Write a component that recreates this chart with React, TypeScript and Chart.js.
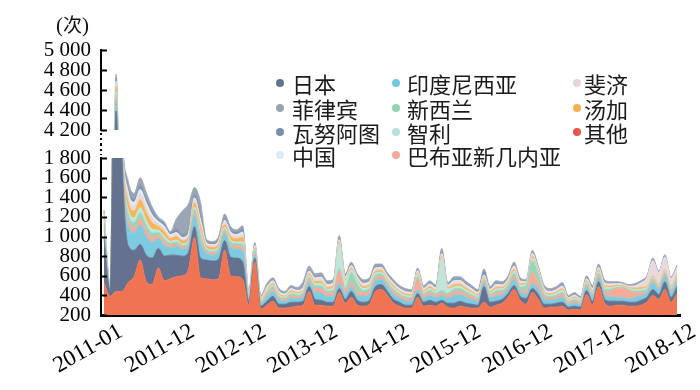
import React, { useEffect, useRef } from 'react';
import { Chart, registerables } from 'chart.js';

Chart.register(...registerables);

// x-axis tick labels (evenly spread over Jan 2011 … Dec 2018, 96 months)
const X_TICK_LABELS = ['2011-01', '2011-12', '2012-12', '2013-12', '2014-12', '2015-12', '2016-12', '2017-12', '2018-12'];
const MONTH_COUNT = 96;

// monthly counts, Jan 2011 .. Dec 2018 (stacked bottom -> top)
const OTHER = [
  530, 390, 440, 440, 530, 590, 760, 540, 510, 680, 550, 570,
  590, 600, 660, 990, 580, 570, 560, 570, 860, 600, 590, 560,
  300, 740, 260, 300, 340, 270, 270, 280, 290, 300, 440, 300,
  300, 290, 290, 430, 320, 380, 300, 290, 310, 440, 460, 400,
  320, 290, 270, 270, 380, 290, 300, 290, 320, 280, 270, 290,
  280, 270, 270, 330, 280, 300, 320, 380, 460, 350, 310, 430,
  360, 270, 280, 280, 290, 250, 260, 250, 410, 300, 490, 320,
  290, 300, 300, 290, 290, 300, 330, 400, 360, 460, 330, 420,
];
const JAPAN = [
  450, 60, 3950, 1350, 380, 270, 160, 270, 270, 200, 250, 240,
  220, 200, 180, 110, 200, 190, 190, 200, 100, 190, 190, 180,
  40, 40, 30, 40, 50, 40, 40, 50, 40, 40, 50, 60,
  50, 40, 40, 40, 40, 60, 50, 40, 40, 50, 50, 40,
  40, 40, 30, 30, 40, 40, 50, 40, 30, 40, 50, 50,
  40, 40, 30, 160, 50, 40, 40, 40, 40, 40, 60, 40,
  50, 40, 30, 40, 40, 30, 30, 30, 40, 40, 50, 40,
  50, 40, 40, 40, 40, 50, 50, 60, 50, 80, 50, 70,
];
const INDONESIA = [
  100, 15, 90, 90, 200, 180, 200, 190, 160, 100, 110, 75,
  85, 70, 70, 110, 150, 65, 60, 70, 70, 95, 90, 110,
  23, 35, 25, 45, 50, 40, 30, 42, 35, 40, 45, 70,
  75, 55, 55, 50, 50, 50, 50, 60, 58, 60, 55, 48,
  50, 42, 40, 38, 40, 40, 52, 45, 50, 50, 75, 68,
  60, 48, 38, 35, 40, 55, 45, 44, 62, 47, 40, 50,
  50, 47, 38, 42, 50, 26, 32, 23, 35, 38, 44, 50,
  45, 40, 38, 36, 45, 48, 45, 70, 50, 60, 50, 55,
];
const PNG = [
  30, 5, 40, 30, 60, 50, 60, 60, 50, 30, 35, 25,
  25, 20, 20, 35, 45, 20, 20, 20, 25, 30, 30, 35,
  17, 25, 15, 25, 26, 22, 18, 25, 22, 25, 30, 40,
  45, 35, 40, 130, 40, 40, 35, 35, 34, 33, 30, 28,
  30, 25, 26, 24, 110, 35, 30, 27, 30, 30, 40, 37,
  33, 28, 24, 25, 23, 30, 27, 27, 36, 28, 30, 120,
  60, 30, 24, 25, 30, 18, 21, 17, 22, 24, 27, 30,
  60, 90, 95, 85, 50, 30, 25, 25, 22, 25, 25, 28,
];
const NEW_ZEALAND = [
  30, 8, 30, 25, 60, 55, 60, 55, 45, 30, 30, 20,
  25, 20, 20, 30, 40, 20, 18, 20, 20, 25, 25, 35,
  11, 18, 12, 20, 22, 17, 14, 18, 15, 20, 20, 25,
  28, 22, 22, 25, 25, 100, 80, 25, 23, 24, 22, 19,
  20, 17, 17, 16, 20, 15, 20, 18, 20, 20, 27, 25,
  22, 19, 16, 15, 16, 21, 18, 18, 24, 19, 60, 110,
  90, 25, 16, 17, 20, 12, 14, 11, 15, 16, 18, 20,
  18, 12, 10, 10, 18, 18, 15, 15, 12, 15, 15, 18,
];
const CHILE = [
  25, 4, 30, 25, 50, 45, 55, 50, 40, 25, 30, 20,
  20, 15, 15, 25, 35, 15, 15, 15, 20, 25, 20, 25,
  11, 15, 10, 17, 18, 15, 12, 16, 15, 15, 20, 25,
  25, 20, 30, 250, 70, 30, 30, 22, 23, 22, 20, 19,
  20, 17, 17, 16, 20, 15, 19, 18, 330, 45, 25, 24,
  22, 18, 16, 15, 15, 20, 17, 18, 24, 19, 15, 30,
  20, 17, 16, 17, 20, 12, 14, 11, 15, 16, 18, 20,
  15, 10, 8, 8, 15, 18, 15, 15, 12, 15, 15, 16,
];
const TONGA = [
  35, 6, 60, 45, 80, 70, 80, 80, 65, 40, 45, 30,
  35, 30, 30, 45, 55, 25, 25, 30, 30, 35, 35, 45,
  9, 13, 9, 14, 14, 13, 10, 13, 12, 12, 15, 20,
  22, 18, 17, 15, 15, 15, 15, 18, 18, 18, 17, 15,
  16, 13, 14, 13, 15, 13, 16, 14, 15, 15, 22, 20,
  18, 15, 13, 10, 13, 17, 14, 14, 19, 15, 10, 15,
  15, 14, 13, 13, 16, 10, 11, 9, 12, 13, 14, 16,
  14, 10, 9, 9, 14, 15, 12, 12, 10, 12, 12, 14,
];
const FIJI = [
  25, 4, 30, 30, 60, 55, 65, 60, 50, 30, 35, 25,
  25, 20, 25, 30, 45, 20, 20, 20, 25, 30, 25, 35,
  11, 16, 11, 18, 19, 16, 14, 17, 15, 18, 20, 25,
  28, 22, 21, 20, 20, 20, 20, 22, 24, 23, 21, 19,
  20, 17, 17, 16, 20, 17, 20, 18, 25, 15, 27, 25,
  22, 19, 16, 15, 16, 21, 18, 18, 24, 19, 10, 25,
  20, 18, 16, 17, 20, 12, 14, 11, 15, 16, 18, 20,
  18, 14, 12, 12, 18, 40, 80, 150, 110, 120, 70, 60,
];
const CHINA = [
  15, 2, 20, 15, 40, 35, 40, 40, 30, 20, 20, 15,
  15, 15, 15, 20, 25, 10, 10, 10, 15, 15, 15, 20,
  5, 8, 6, 9, 10, 8, 7, 9, 8, 10, 10, 13,
  14, 11, 12, 10, 10, 10, 10, 12, 12, 11, 10, 10,
  10, 9, 8, 8, 8, 8, 10, 9, 10, 8, 14, 12,
  11, 10, 8, 5, 8, 10, 9, 9, 12, 10, 5, 10,
  8, 10, 8, 9, 10, 6, 7, 5, 8, 8, 9, 10,
  8, 5, 3, 4, 8, 9, 8, 8, 5, 6, 5, 8,
];
const VANUATU = [
  15, 3, 35, 25, 40, 35, 45, 40, 35, 20, 20, 15,
  40, 30, 35, 35, 55, 15, 15, 15, 20, 25, 25, 30,
  6, 8, 5, 9, 9, 8, 6, 8, 8, 10, 10, 14,
  13, 11, 11, 15, 10, 10, 10, 11, 12, 12, 11, 9,
  10, 8, 9, 8, 9, 8, 9, 9, 20, 9, 12, 12,
  11, 10, 8, 40, 8, 11, 9, 9, 12, 10, 5, 10,
  9, 9, 8, 8, 10, 6, 7, 6, 8, 8, 9, 10,
  5, 4, 2, 3, 5, 5, 5, 7, 4, 6, 4, 5,
];
const PHILIPPINES = [
  15, 3, 35, 25, 70, 55, 75, 65, 45, 25, 25, 15,
  100, 240, 260, 70, 120, 20, 17, 30, 45, 30, 25, 35,
  17, 22, 17, 23, 22, 21, 19, 22, 20, 50, 40, 28,
  30, 26, 22, 25, 20, 25, 20, 25, 26, 27, 24, 23,
  24, 22, 22, 21, 18, 19, 24, 22, 30, 18, 28, 27,
  26, 23, 21, 20, 21, 25, 23, 23, 27, 23, 15, 20,
  18, 20, 21, 22, 24, 18, 20, 17, 20, 21, 23, 24,
  17, 15, 13, 13, 17, 17, 15, 18, 15, 16, 14, 16,
];

const SERIES = [
  { name: '其他', color: '#f07352', dot: '#e8554b', values: OTHER },
  { name: '日本', color: '#65728f', dot: '#5d7591', values: JAPAN },
  { name: '印度尼西亚', color: '#7ccbe0', dot: '#72c8e0', values: INDONESIA },
  { name: '巴布亚新几内亚', color: '#f5ab9a', dot: '#f3a898', values: PNG },
  { name: '新西兰', color: '#98d6ba', dot: '#93d3b6', values: NEW_ZEALAND },
  { name: '智利', color: '#bfe6dd', dot: '#b6e2d8', values: CHILE },
  { name: '汤加', color: '#f8b558', dot: '#f6b04e', values: TONGA },
  { name: '斐济', color: '#ecd8db', dot: '#e9d5d8', values: FIJI },
  { name: '中国', color: '#dbeef7', dot: '#d8edf8', values: CHINA },
  { name: '瓦努阿图', color: '#8193ad', dot: '#7a90aa', values: VANUATU },
  { name: '菲律宾', color: '#9ba5b5', dot: '#98a3b3', values: PHILIPPINES },
];

// legend layout: columns of names (as in the reference)
const LEGEND_COLUMNS = [
  ['日本', '菲律宾', '瓦努阿图', '中国'],
  ['印度尼西亚', '新西兰', '智利', '巴布亚新几内亚'],
  ['斐济', '汤加', '其他'],
];

const SERIF = "'Liberation Serif', 'Times New Roman', serif";
const CJK = "'Noto Sans CJK SC', 'Noto Sans CJK JP', sans-serif";

function fmt(v: number): string {
  if (v >= 1000) {
    const th = Math.floor(v / 1000);
    const rest = String(Math.round(v % 1000)).padStart(3, '0');
    return th + ' ' + rest;
  }
  return String(v);
}

function makeDatasets() {
  return SERIES.map((s, k) => ({
    label: s.name,
    data: s.values.slice(0, MONTH_COUNT).map((v, i) => ({ x: i, y: v })),
    backgroundColor: s.color,
    borderColor: s.color,
    borderWidth: 0.8,
    pointRadius: 0,
    pointHoverRadius: 0,
    fill: k === 0 ? 'origin' : '-1',
    cubicInterpolationMode: 'monotone' as const,
  }));
}

function axisDeco(kind: 'upper' | 'lower') {
  return {
    id: 'axisDeco_' + kind,
    afterDraw(chart: any) {
      const { ctx, chartArea, scales } = chart;
      const y = scales.y;
      ctx.save();
      ctx.strokeStyle = '#000';
      ctx.lineWidth = 2;
      y.ticks.forEach((t: any) => {
        const py = Math.round(y.getPixelForValue(t.value)) + 0.5;
        ctx.beginPath();
        ctx.moveTo(chartArea.left, py);
        ctx.lineTo(chartArea.left + 6, py);
        ctx.stroke();
      });
      ctx.setLineDash([2, 3]);
      ctx.beginPath();
      if (kind === 'upper') {
        ctx.moveTo(chartArea.left, chartArea.bottom + 3);
        ctx.lineTo(chartArea.left, chart.height);
      } else {
        ctx.moveTo(chartArea.left, 0);
        ctx.lineTo(chartArea.left, chartArea.top - 3);
      }
      ctx.stroke();
      ctx.restore();
    },
  };
}

function buildConfig(kind: 'upper' | 'lower'): any {
  const upper = kind === 'upper';
  return {
    type: 'line',
    data: { datasets: makeDatasets() },
    plugins: [axisDeco(kind)],
    options: {
      animation: false,
      responsive: false,
      events: [],
      layout: upper
        ? { padding: { top: 50, right: 20, bottom: 14, left: 0 } }
        : { padding: { top: 14, right: 20, bottom: 0, left: 0 } },
      plugins: { legend: { display: false }, tooltip: { enabled: false } },
      scales: {
        x: {
          type: 'linear',
          min: -0.5,
          max: MONTH_COUNT - 0.5,
          display: !upper,
          afterBuildTicks: (scale: any) => {
            scale.ticks = X_TICK_LABELS.map((_, k) => ({
              value: (k * (MONTH_COUNT - 1)) / (X_TICK_LABELS.length - 1),
            }));
          },
          afterFit: (scale: any) => {
            scale.height = upper ? 0 : 75;
            scale.paddingLeft = 0;
            scale.paddingRight = 0;
          },
          ticks: {
            callback: (_v: any, idx: number) => X_TICK_LABELS[idx],
            minRotation: 30,
            maxRotation: 30,
            autoSkip: false,
            labelOffset: 17,
            padding: 3,
            color: '#000',
            font: { family: SERIF, size: 23 },
          },
          grid: { display: false, drawTicks: false },
          border: { display: true, color: '#000', width: 3 },
        },
        y: {
          stacked: true,
          min: upper ? 4200 : 200,
          max: upper ? 5000 : 1800,
          afterFit: (scale: any) => {
            scale.width = 101;
            scale.paddingTop = 0;
            scale.paddingBottom = 0;
          },
          ticks: {
            stepSize: 200,
            autoSkip: false,
            callback: (v: number) => fmt(v),
            padding: 10,
            color: '#000',
            font: { family: SERIF, size: 21 },
          },
          grid: { display: false, drawTicks: false },
          border: { display: true, color: '#000', width: 2 },
        },
      },
    },
  };
}

export default function App() {
  const upperRef = useRef<HTMLCanvasElement | null>(null);
  const lowerRef = useRef<HTMLCanvasElement | null>(null);

  useEffect(() => {
    const up = new Chart(upperRef.current as HTMLCanvasElement, buildConfig('upper'));
    const lo = new Chart(lowerRef.current as HTMLCanvasElement, buildConfig('lower'));
    return () => {
      up.destroy();
      lo.destroy();
    };
  }, []);

  const colX = [
    { dot: 280, text: 292 },
    { dot: 396, text: 407 },
    { dot: 577, text: 584 },
  ];
  const rowY = [83, 108, 132, 155];
  const colorOf = (name: string) => (SERIES.find((s) => s.name === name) as any).dot;

  return (
    <div style={{ position: 'fixed', left: 0, top: 0, width: 700, height: 390, background: '#fff', overflow: 'hidden' }}>
      <canvas ref={upperRef} width={700} height={144} style={{ position: 'absolute', left: 0, top: 0, width: 700, height: 144 }} />
      <canvas ref={lowerRef} width={700} height={246} style={{ position: 'absolute', left: 0, top: 144, width: 700, height: 246 }} />
      <div
        style={{
          position: 'absolute',
          left: 56,
          top: 12,
          fontFamily: SERIF + ', ' + CJK,
          fontSize: 21,
          lineHeight: '24px',
          color: '#111',
          whiteSpace: 'nowrap',
        }}
      >
        (<span style={{ fontFamily: CJK, fontSize: 19 }}>次</span>)
      </div>
      {LEGEND_COLUMNS.map((col, c) =>
        col.map((name, r) => (
          <React.Fragment key={name}>
            <div
              style={{
                position: 'absolute',
                left: colX[c].dot - 4,
                top: rowY[r] - 4,
                width: 8,
                height: 8,
                borderRadius: '50%',
                background: colorOf(name),
              }}
            />
            <div
              style={{
                position: 'absolute',
                left: colX[c].text,
                top: rowY[r] - 13,
                fontFamily: CJK,
                fontSize: 22,
                lineHeight: '26px',
                color: '#1a1a1a',
                whiteSpace: 'nowrap',
              }}
            >
              {name}
            </div>
          </React.Fragment>
        ))
      )}
    </div>
  );
}
